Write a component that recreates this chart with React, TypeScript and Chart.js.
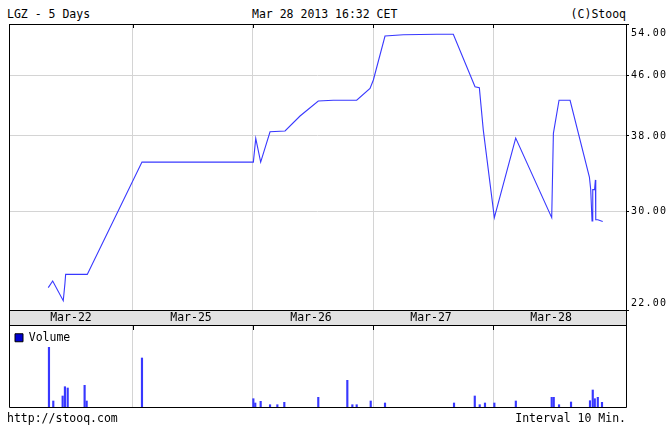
import React, { useEffect, useRef } from 'react';
import { Chart, registerables } from 'chart.js';

Chart.register(...registerables);

const title = 'LGZ - 5 Days';
const stamp = 'Mar 28 2013 16:32 CET';
const credit = '(C)Stooq';
const sourceUrl = 'http://stooq.com';
const intervalNote = 'Interval 10 Min.';
const volumeLabel = 'Volume';

const dayLabels = ['Mar-22', 'Mar-25', 'Mar-26', 'Mar-27', 'Mar-28'];
const priceTicks = [22, 30, 38, 46, 54];

// time = trading sessions elapsed since the Mar-22 open (1.0 = one session)
const priceTime = [0.294, 0.331, 0.419, 0.433, 0.439, 0.619, 1.075, 2.003, 2.023, 2.064, 2.142, 2.267, 2.392, 2.544, 2.669, 2.864, 2.975, 3.003, 3.100, 3.253, 3.531, 3.669, 3.850, 3.886, 3.919, 4.011, 4.189, 4.489, 4.503, 4.550, 4.642, 4.803, 4.814, 4.825, 4.831, 4.846, 4.853, 4.856, 4.873, 4.914];
const priceClose = [23.6, 24.1, 22.65, 23.9, 24.6, 24.6, 35.0, 35.0, 37.7, 35.0, 38.5, 38.6, 40.45, 42.4, 42.5, 42.5, 44.1, 45.3, 52.0, 52.2, 52.3, 52.3, 44.35, 44.2, 38.7, 29.4, 37.75, 29.4, 38.3, 42.5, 42.5, 33.4, 32.1, 29.1, 32.1, 32.1, 33.1, 29.2, 29.2, 29.05];

const volumeTime = [0.300, 0.336, 0.414, 0.433, 0.456, 0.597, 0.614, 1.075, 2.003, 2.019, 2.064, 2.142, 2.203, 2.261, 2.544, 2.786, 2.828, 2.864, 2.981, 3.100, 3.675, 3.848, 3.889, 3.933, 4.011, 4.190, 4.489, 4.506, 4.550, 4.650, 4.808, 4.831, 4.848, 4.873, 4.908];
const volumeK = [59.7, 6, 11, 20.3, 19, 21.7, 6, 49, 8.3, 4, 5.7, 2.3, 2.3, 4.7, 9.7, 26.7, 2.3, 2.3, 6, 4, 4, 11, 2.3, 4, 4, 6, 9.7, 9.7, 2.3, 5, 6.3, 17, 8.3, 9.7, 4.7];

const X_MIN = -0.033;
const X_MAX = 5.108;
const PRICE_MIN = 22;
const PRICE_MAX = 54;
const VOLUME_MAX = 81;

const MONO = '"DejaVu Sans Mono", monospace';
const BLUE = '#3838ff';
const GRID = '#d4d4d4';

export default function App() {
  const priceRef = useRef<HTMLCanvasElement>(null);
  const volRef = useRef<HTMLCanvasElement>(null);

  useEffect(() => {
    const edges = dayLabels.slice(1).map((_, i) => i + 1);

    const priceFrame = {
      id: 'priceFrame',
      beforeDraw(chart: any) {
        const { ctx, chartArea: a } = chart;
        ctx.save();
        ctx.fillStyle = '#e2e2e2';
        ctx.fillRect(a.left, a.bottom, a.right - a.left, 16);
        ctx.restore();
      },
      afterDraw(chart: any) {
        const { ctx, chartArea: a } = chart;
        ctx.save();
        ctx.strokeStyle = '#000';
        ctx.lineWidth = 1;
        ctx.strokeRect(a.left + 0.5, a.top + 0.5, a.right - a.left, a.bottom - a.top);
        ctx.strokeRect(a.left + 0.5, a.bottom + 0.5, a.right - a.left, 15);
        const xs = chart.scales.x;
        ctx.beginPath();
        edges.forEach((e) => {
          const px = Math.round(xs.getPixelForValue(e)) + 0.5;
          ctx.moveTo(px, a.top);
          ctx.lineTo(px, a.top + 4);
        });
        ctx.stroke();
        const ys = chart.scales.y;
        ctx.fillStyle = '#000';
        ctx.font = '10px ' + MONO;
        (ctx as any).letterSpacing = '1.2px';
        ctx.textAlign = 'left';
        ctx.textBaseline = 'middle';
        ys.ticks.forEach((t: any) => {
          let py = ys.getPixelForValue(t.value);
          py = Math.min(Math.max(py, a.top + 9), a.bottom - 7);
          ctx.fillText(Number(t.value).toFixed(2), a.right + 5, py);
        });
        ctx.restore();
      },
    };

    const priceChart = new Chart(priceRef.current!, {
      type: 'line',
      data: {
        datasets: [
          {
            data: priceTime.map((t, i) => ({ x: t, y: priceClose[i] })),
            borderColor: BLUE,
            borderWidth: 1.1,
            pointRadius: 0,
            tension: 0,
            fill: false,
          },
        ],
      },
      options: {
        animation: false,
        responsive: false,
        maintainAspectRatio: false,
        events: [],
        layout: { padding: { left: 9, top: 24, right: 0, bottom: 0 } },
        plugins: { legend: { display: false }, tooltip: { enabled: false } },
        scales: {
          x: {
            type: 'linear',
            min: X_MIN,
            max: X_MAX,
            position: 'bottom',
            afterBuildTicks: (s: any) => {
              s.ticks = dayLabels.map((_, i) => ({ value: i + 0.5 }));
            },
            afterFit: (s: any) => {
              s.height = 16;
            },
            ticks: {
              autoSkip: false,
              maxRotation: 0,
              padding: 1,
              labelOffset: -2,
              color: '#000',
              font: { family: MONO, size: 11.5 },
              callback: (_v: any, i: number) => dayLabels[i],
            },
            grid: {
              offset: true,
              drawTicks: false,
              lineWidth: 1,
              color: (c: any) => (c.index >= 1 && c.index <= 4 ? GRID : 'rgba(0,0,0,0)'),
            },
            border: { display: false },
          },
          y: {
            type: 'logarithmic',
            position: 'right',
            min: PRICE_MIN,
            max: PRICE_MAX,
            afterBuildTicks: (s: any) => {
              s.ticks = priceTicks.map((v) => ({ value: v }));
            },
            afterFit: (s: any) => {
              s.width = 44;
            },
            ticks: { display: false },
            grid: {
              drawTicks: true,
              tickLength: 3,
              tickColor: '#000',
              color: (c: any) =>
                c.tick && c.tick.value > PRICE_MIN && c.tick.value < PRICE_MAX ? GRID : 'rgba(0,0,0,0)',
            },
            border: { display: false },
          },
        },
      } as any,
      plugins: [priceFrame],
    });

    const volumeFrame = {
      id: 'volumeFrame',
      afterDraw(chart: any) {
        const { ctx, chartArea: a } = chart;
        ctx.save();
        ctx.strokeStyle = '#000';
        ctx.lineWidth = 1;
        ctx.beginPath();
        ctx.moveTo(a.left + 0.5, 0);
        ctx.lineTo(a.left + 0.5, a.bottom + 0.5);
        ctx.lineTo(a.right + 0.5, a.bottom + 0.5);
        ctx.lineTo(a.right + 0.5, 0);
        const xs = chart.scales.x;
        edges.forEach((e) => {
          const px = Math.round(xs.getPixelForValue(e)) + 0.5;
          ctx.moveTo(px, a.top);
          ctx.lineTo(px, a.top + 4);
        });
        ctx.stroke();
        ctx.restore();
      },
    };

    const volumeChart = new Chart(volRef.current!, {
      type: 'bar',
      data: {
        datasets: [
          {
            label: volumeLabel,
            data: volumeTime.map((t, i) => ({ x: t, y: volumeK[i] })),
            backgroundColor: BLUE,
            borderWidth: 0,
            barThickness: 1.5,
          },
        ],
      },
      options: {
        animation: false,
        responsive: false,
        maintainAspectRatio: false,
        events: [],
        layout: { padding: { left: 9, top: 0, right: 44, bottom: 19 } },
        plugins: {
          tooltip: { enabled: false },
          legend: {
            display: true,
            position: 'chartArea',
            align: 'start',
            labels: {
              boxWidth: 8,
              boxHeight: 8,
              padding: 6,
              color: '#000',
              font: { family: MONO, size: 11.5 },
              generateLabels: () => [
                {
                  text: volumeLabel,
                  fillStyle: '#0000d0',
                  strokeStyle: '#000',
                  lineWidth: 1,
                  hidden: false,
                  datasetIndex: 0,
                },
              ],
            },
          },
        },
        scales: {
          x: {
            type: 'linear',
            min: X_MIN,
            max: X_MAX,
            offset: false,
            afterBuildTicks: (s: any) => {
              s.ticks = edges.map((v) => ({ value: v }));
            },
            afterFit: (s: any) => {
              s.height = 0;
            },
            ticks: { display: false },
            grid: { offset: false, drawTicks: false, color: GRID },
            border: { display: false },
          },
          y: {
            display: false,
            min: 0,
            max: VOLUME_MAX,
          },
        },
      } as any,
      plugins: [volumeFrame],
    });

    return () => {
      priceChart.destroy();
      volumeChart.destroy();
    };
  }, []);

  const txt: React.CSSProperties = {
    position: 'absolute',
    fontFamily: MONO,
    fontSize: '11.5px',
    lineHeight: '12px',
    whiteSpace: 'pre',
    color: '#000',
  };

  return (
    <div
      style={{
        position: 'fixed',
        left: 0,
        top: 0,
        width: 670,
        height: 426,
        background: '#fff',
        overflow: 'hidden',
      }}
    >
      <div style={{ ...txt, left: 7, top: 8 }}>{title}</div>
      <div style={{ ...txt, left: 252, top: 8 }}>{stamp}</div>
      <div style={{ ...txt, right: 44, top: 8 }}>{credit}</div>
      <canvas
        ref={priceRef}
        width={670}
        height={326}
        style={{ position: 'absolute', left: 0, top: 0, width: 670, height: 326 }}
      />
      <canvas
        ref={volRef}
        width={670}
        height={100}
        style={{ position: 'absolute', left: 0, top: 326, width: 670, height: 100 }}
      />
      <div style={{ ...txt, left: 7, top: 412 }}>{sourceUrl}</div>
      <div style={{ ...txt, right: 44, top: 412 }}>{intervalNote}</div>
    </div>
  );
}
